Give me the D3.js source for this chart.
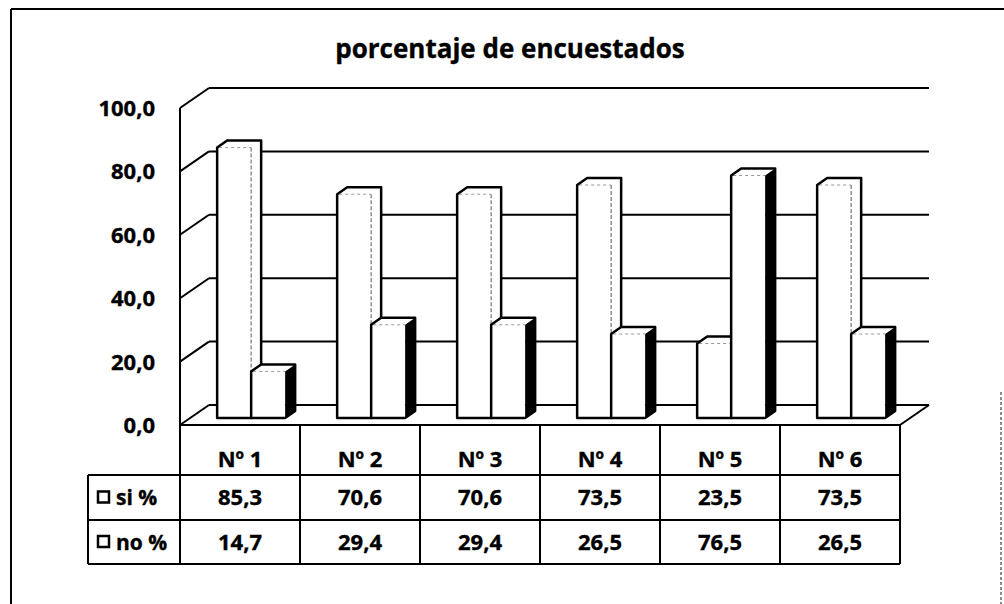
<!DOCTYPE html>
<html>
<head>
<meta charset="utf-8">
<script src="https://cdn.jsdelivr.net/npm/d3@7"></script>
<style>
	body { margin: 0; background: #fff; }
	svg text { font-family: "Open Sans", Lato, sans-serif; font-weight: bold; fill: #000; stroke: #000; stroke-width: 0.35px; }
</style>
</head>
<body>
<div id="chart"></div>
<script>
var categories = ["Nº 1", "Nº 2", "Nº 3", "Nº 4", "Nº 5", "Nº 6"];
var seriesNames = ["si %", "no %"];
var siValues = [85.3, 70.6, 70.6, 73.5, 23.5, 73.5];
var noValues = [14.7, 29.4, 29.4, 26.5, 76.5, 26.5];
var tickValues = [0, 20, 40, 60, 80, 100];

var W = 1004, H = 604;
var svg = d3.select("#chart").append("svg")
	.attr("width", W)
	.attr("height", H);

// frame
svg.append("line").attr("x1", 11).attr("y1", 9).attr("x2", 1004).attr("y2", 9)
	.attr("stroke", "#000").attr("stroke-width", 2);
svg.append("line").attr("x1", 11).attr("y1", 9).attr("x2", 11).attr("y2", 604)
	.attr("stroke", "#000").attr("stroke-width", 2);
svg.append("line").attr("x1", 1001).attr("y1", 392).attr("x2", 1001).attr("y2", 604)
	.attr("stroke", "#666").attr("stroke-width", 1.5).attr("stroke-dasharray", "3,2");

svg.append("text")
	.attr("x", 510).attr("y", 58)
	.attr("text-anchor", "middle")
	.style("font-size", "26px")
	.text("porcentaje de encuestados");

// depth of the 3d box
var DX = 29, DY = -20;
var left = 180, right = 900;

var y = d3.scaleLinear().domain([0, 100]).range([425, 108]);
var x = d3.scaleBand().domain(categories).range([left, right]);
var xSub = d3.scaleBand().domain(seriesNames).range([27, 95]);

var g = svg.append("g");

// back wall gridlines
g.selectAll(".grid").data(tickValues).enter().append("line")
	.attr("x1", left + DX).attr("x2", right + DX)
	.attr("y1", d => y(d) + DY).attr("y2", d => y(d) + DY)
	.attr("stroke", "#000").attr("stroke-width", 2);

// side wall lines
g.selectAll(".wall").data(tickValues).enter().append("line")
	.attr("x1", left).attr("x2", left + DX)
	.attr("y1", d => y(d)).attr("y2", d => y(d) + DY)
	.attr("stroke", "#000").attr("stroke-width", 2);

g.append("line")
	.attr("x1", left).attr("x2", left)
	.attr("y1", y(100)).attr("y2", y(0))
	.attr("stroke", "#000").attr("stroke-width", 2);

// floor right edge
g.append("line")
	.attr("x1", right).attr("y1", y(0))
	.attr("x2", right + DX).attr("y2", y(0) + DY)
	.attr("stroke", "#000").attr("stroke-width", 2);

// y labels
g.selectAll(".ylab").data(tickValues).enter().append("text")
	.attr("x", 155).attr("y", d => y(d))
	.attr("dy", "0.36em")
	.attr("text-anchor", "end")
	.style("font-size", "22px")
	.text(d => d3.format(".1f")(d).replace(".", ","));

// bars
var f = 0.35;
var bd = 10, bh = 7;
var baseShiftX = DX * f, baseShiftY = DY * f;

var bars = [];
categories.forEach((c, i) => {
	bars.push({ cat: c, s: "si %", v: siValues[i] });
	bars.push({ cat: c, s: "no %", v: noValues[i] });
});

bars.forEach(d => {
	var x0 = x(d.cat) + baseShiftX + xSub(d.s);
	var x1 = x0 + xSub.bandwidth();
	var yB = y(0) + baseShiftY;
	var yT = y(d.v) + baseShiftY;
	var dark = d.s == "no %";

	g.append("rect")
		.attr("x", x0).attr("y", yT)
		.attr("width", x1 - x0).attr("height", yB - yT)
		.attr("fill", "#fff");

	g.append("path")
		.attr("d", `M ${x0} ${yT} L ${x0 + bd} ${yT - bh} L ${x1 + bd} ${yT - bh} L ${x1} ${yT} Z`)
		.attr("fill", "#fff");

	g.append("path")
		.attr("d", `M ${x1} ${yT} L ${x1 + bd} ${yT - bh} L ${x1 + bd} ${yB - bh} L ${x1} ${yB} Z`)
		.attr("fill", dark ? "#000" : "#fff");

	if (!dark) {
		g.append("line")
			.attr("x1", x1).attr("y1", yT).attr("x2", x1).attr("y2", yB)
			.attr("stroke", "#777").attr("stroke-width", 1.2)
			.attr("stroke-dasharray", "4,2");
	}
	g.append("line")
		.attr("x1", x0 + 2).attr("y1", yT).attr("x2", x1).attr("y2", yT)
		.attr("stroke", "#999").attr("stroke-width", 1)
		.attr("stroke-dasharray", "3,3");

	g.append("path")
		.attr("d", `M ${x0} ${yB} L ${x0} ${yT} L ${x0 + bd} ${yT - bh} L ${x1 + bd} ${yT - bh} L ${x1 + bd} ${yB - bh} L ${x1} ${yB} Z`)
		.attr("fill", "none")
		.attr("stroke", "#000")
		.attr("stroke-width", 2.5)
		.attr("stroke-linejoin", "round");
});

// data table
var rowTop = [y(0), 475, 520, 564];
var legLeft = 88;
var t = svg.append("g");

t.append("line").attr("x1", left).attr("x2", right)
	.attr("y1", rowTop[0]).attr("y2", rowTop[0])
	.attr("stroke", "#000").attr("stroke-width", 2);
[rowTop[1], rowTop[2], rowTop[3]].forEach(yy => {
	t.append("line").attr("x1", legLeft).attr("x2", right)
		.attr("y1", yy).attr("y2", yy)
		.attr("stroke", "#000").attr("stroke-width", 2);
});
t.append("line").attr("x1", legLeft).attr("x2", legLeft)
	.attr("y1", rowTop[1]).attr("y2", rowTop[3])
	.attr("stroke", "#000").attr("stroke-width", 2);
categories.concat([null]).forEach((c, i) => {
	var xx = c ? x(c) : right;
	t.append("line").attr("x1", xx).attr("x2", xx)
		.attr("y1", rowTop[0]).attr("y2", rowTop[3])
		.attr("stroke", "#000").attr("stroke-width", 2);
});

var cx = c => x(c) + x.bandwidth() / 2;

t.selectAll(".hdr").data(categories).enter().append("text")
	.attr("x", cx).attr("y", 467)
	.attr("text-anchor", "middle")
	.style("font-size", "22px")
	.text(d => d);

[siValues, noValues].forEach((vals, r) => {
	var mid = (rowTop[r + 1] + rowTop[r + 2]) / 2;
	t.selectAll(".v" + r).data(vals).enter().append("text")
		.attr("x", (d, i) => cx(categories[i])).attr("y", mid)
		.attr("dy", "0.36em")
		.attr("text-anchor", "middle")
		.style("font-size", "22px")
		.text(d => d3.format(".1f")(d).replace(".", ","));

	t.append("rect")
		.attr("x", 98).attr("y", mid - 6)
		.attr("width", 11).attr("height", 11)
		.attr("fill", "#fff").attr("stroke", "#000").attr("stroke-width", 2.5);
	t.append("text")
		.attr("x", 116).attr("y", mid)
		.attr("dy", "0.36em")
		.style("font-size", "21px")
		.text(seriesNames[r]);
});
</script>
</body>
</html>
